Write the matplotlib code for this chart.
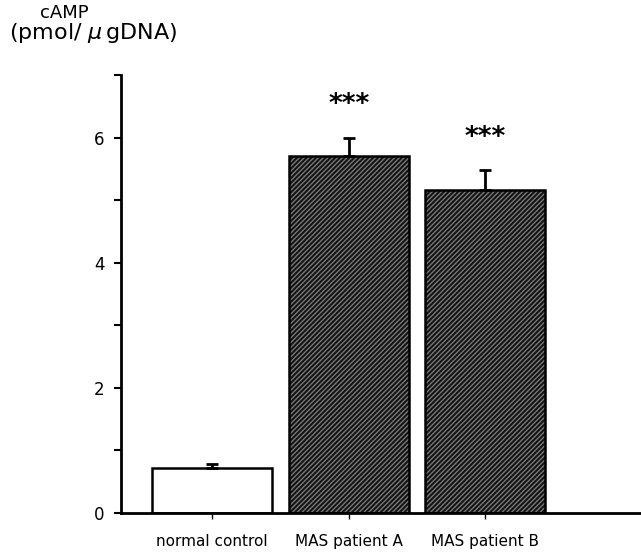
import matplotlib
matplotlib.use("Agg")
import matplotlib.pyplot as plt

# Data
groups = ["normal control", "MAS patient A", "MAS patient B"]
camp = [0.72, 5.71, 5.17]
sem = [0.07, 0.29, 0.31]
stars = ["", "***", "***"]

plt.rcParams["font.family"] = ["DejaVu Sans"]
plt.rcParams["hatch.linewidth"] = 1.0

fig = plt.figure(figsize=(6.41, 5.52), dpi=100)
ax = fig.add_axes([0.189, 0.0707, 0.811, 0.793])

x = list(range(len(groups)))
width = 0.88

# white control bar
ax.bar(x[0], camp[0], width=width, facecolor="white", edgecolor="black",
       linewidth=1.8, zorder=2)
# hatched patient bars: dark fill with light diagonal hatch, then black outline
ax.bar(x[1:], camp[1:], width=width, facecolor="#121212", edgecolor="#777777",
       hatch="///////", linewidth=0, zorder=2)
ax.bar(x[1:], camp[1:], width=width, fill=False, edgecolor="black",
       linewidth=1.8, zorder=3)

# upper error bars only
ax.errorbar(x, camp, yerr=[[0] * len(sem), sem], fmt="none", ecolor="black",
            elinewidth=2, capsize=4, capthick=2, zorder=4)

for xi, v, e, s in zip(x, camp, sem, stars):
    if s:
        ax.text(xi, v + e + 0.52, s, ha="center", va="center", fontsize=19,
                fontweight="bold")

ax.set_xlim(-0.667, 3.14)
ax.set_ylim(0, 7)
ax.set_yticks(range(0, 8))
ax.set_yticklabels(["0", "", "2", "", "4", "", "6", ""], fontsize=12)
ax.set_xticks(x)
ax.set_xticklabels(groups, fontsize=11)
ax.tick_params(axis="y", direction="out", length=5, width=1.5, pad=7)
ax.tick_params(axis="x", direction="out", length=4, width=1, pad=11)

for side in ["top", "right"]:
    ax.spines[side].set_visible(False)
ax.spines["left"].set_linewidth(2)
ax.spines["bottom"].set_linewidth(2)

fig.text(0.10, 0.977, "cAMP", ha="center", va="center", fontsize=13)
fig.text(0.145, 0.94, "(pmol/ $\\mu\\,$gDNA)", ha="center", va="center", fontsize=16)

fig.savefig("out.png", dpi=100)
